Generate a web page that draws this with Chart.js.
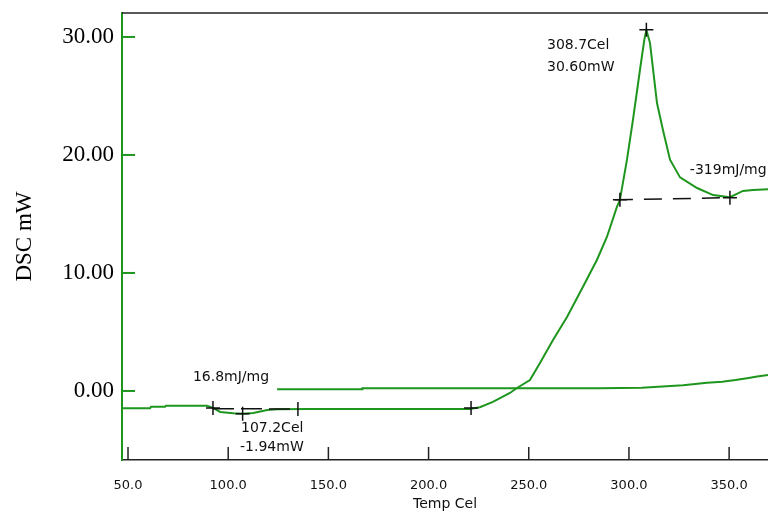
<!DOCTYPE html>
<html>
<head>
<meta charset="utf-8">
<script src="https://cdn.jsdelivr.net/npm/chart.js@4.4.1/dist/chart.umd.min.js"></script>
<style>
  body { margin: 0; background: #fff; }
  canvas { display: block; }
</style>
</head>
<body>
<canvas id="dscChart" width="768" height="513"></canvas>
<script>
// heating run
const heatTemp = [47.0, 61.0, 61.5, 68.5, 69.0, 89.4, 92.4, 96.0, 102.5, 107.2, 112.5, 119.5, 124.4, 140.0, 180.0,
    220.7, 225.6, 232.1, 240.6, 244.1, 250.6, 255.6, 262.1, 269.1, 277.0, 284.0, 289.0, 294.0, 295.5, 299.0,
    302.0, 305.5, 307.7, 308.7, 310.5, 314.0, 317.0, 320.5, 325.5, 334.0, 342.0, 350.4, 356.9, 361.9, 369.4];
const heatDsc = [-1.47, -1.47, -1.33, -1.33, -1.25, -1.25, -1.44, -1.78, -1.89, -1.94, -1.86, -1.61, -1.55, -1.53, -1.53,
    -1.53, -1.38, -0.93, -0.17, 0.25, 0.93, 2.37, 4.32, 6.27, 8.81, 11.1, 13.05, 15.6, 16.2, 19.58,
    22.97, 27.2, 29.8, 30.6, 29.5, 24.4, 22.1, 19.6, 18.1, 17.2, 16.6, 16.42, 16.95, 17.03, 17.1];

// second trace
const coolTemp = [124.4, 166.8, 167.0, 285.0, 306.5, 327.0, 339.0, 346.6, 353.1, 359.0, 364.0, 369.4];
const coolDsc = [0.14, 0.14, 0.23, 0.23, 0.27, 0.49, 0.70, 0.79, 0.93, 1.08, 1.22, 1.36];

// baselines of the two peaks
const base1Temp = [92.4, 134.8];
const base1Dsc = [-1.5, -1.53];
const base2Temp = [293.0, 350.4];
const base2Dsc = [16.2, 16.38];

// analysis markers
const markTemp = [92.4, 107.2, 134.8, 221.2, 295.5, 308.7, 350.4];
const markDsc = [-1.44, -1.94, -1.53, -1.44, 16.2, 30.6, 16.38];

// notes
const noteText = ['16.8mJ/mg', '107.2Cel', '-1.94mW', '308.7Cel', '30.60mW', '-319mJ/mg'];
const noteTemp = [82.4, 106.4, 105.9, 259.1, 259.1, 330.4];
const noteDsc = [1.19, -3.14, -4.75, 29.3, 27.46, 18.73];

const xTicks = [50, 100, 150, 200, 250, 300, 350];
const yTicks = [0, 10, 20, 30];

const green = '#1e961e';
const toPoints = (xs, ys) => xs.map((x, i) => ({ x, y: ys[i] }));

const frame = {
    id: 'frame',
    afterDraw(chart) {
        const { ctx, chartArea, scales } = chart;
        ctx.save();
        // top border
        ctx.strokeStyle = '#222';
        ctx.lineWidth = 1.5;
        ctx.beginPath();
        ctx.moveTo(chartArea.left, chartArea.top);
        ctx.lineTo(chartArea.right, chartArea.top);
        ctx.stroke();
        // inward x ticks
        xTicks.forEach((v) => {
            const px = scales.x.getPixelForValue(v);
            ctx.beginPath();
            ctx.moveTo(px, chartArea.bottom);
            ctx.lineTo(px, chartArea.bottom - 13);
            ctx.stroke();
        });
        // inward y ticks
        ctx.strokeStyle = green;
        ctx.lineWidth = 2;
        yTicks.forEach((v) => {
            const py = scales.y.getPixelForValue(v);
            ctx.beginPath();
            ctx.moveTo(chartArea.left, py);
            ctx.lineTo(chartArea.left + 13, py);
            ctx.stroke();
        });
        // notes
        ctx.fillStyle = '#111';
        ctx.font = '14px "DejaVu Sans"';
        ctx.textAlign = 'left';
        ctx.textBaseline = 'middle';
        noteText.forEach((t, i) => {
            ctx.fillText(t, scales.x.getPixelForValue(noteTemp[i]), scales.y.getPixelForValue(noteDsc[i]));
        });
        ctx.restore();
    },
};

new Chart(document.getElementById('dscChart'), {
    type: 'line',
    data: {
        datasets: [
            {
                data: toPoints(markTemp, markDsc),
                showLine: false,
                pointStyle: ['cross', 'cross', 'line', 'cross', 'cross', 'cross', 'cross'],
                rotation: [0, 0, 90, 0, 0, 0, 0],
                pointRadius: 7,
                pointBorderColor: '#111',
                pointBorderWidth: 1.5,
            },
            {
                data: toPoints(base1Temp, base1Dsc),
                borderColor: '#111',
                borderWidth: 1.5,
                borderDash: [21, 7],
                pointRadius: 0,
            },
            {
                data: toPoints(base2Temp, base2Dsc),
                borderColor: '#111',
                borderWidth: 1.5,
                borderDash: [18, 11],
                pointRadius: 0,
            },
            {
                data: toPoints(heatTemp, heatDsc),
                borderColor: green,
                borderWidth: 2,
                pointRadius: 0,
                tension: 0,
            },
            {
                data: toPoints(coolTemp, coolDsc),
                borderColor: green,
                borderWidth: 2,
                pointRadius: 0,
                tension: 0,
            },
        ],
    },
    options: {
        responsive: false,
        animation: false,
        events: [],
        layout: { autoPadding: false, padding: { top: 13, right: 0, left: 0, bottom: 0 } },
        plugins: {
            legend: { display: false },
            tooltip: { enabled: false },
        },
        scales: {
            x: {
                type: 'linear',
                min: 47.0,
                max: 369.4,
                afterBuildTicks: (s) => { s.ticks = xTicks.map((value) => ({ value })); },
                afterFit: (s) => {
                    s.height = 53;
                    s.paddingLeft = 0;
                    s.paddingRight = 0;
                },
                grid: { display: false, drawTicks: false },
                border: { display: true, color: '#222', width: 1.5 },
                ticks: {
                    padding: 18,
                    color: '#111',
                    font: { family: 'DejaVu Sans', size: 13 },
                    maxRotation: 0,
                    autoSkip: false,
                    callback: (v) => Number(v).toFixed(1),
                },
                title: {
                    display: true,
                    text: 'Temp Cel',
                    color: '#111',
                    font: { family: 'DejaVu Sans', size: 14 },
                    padding: { top: 0, bottom: 0 },
                },
            },
            y: {
                min: -5.85,
                max: 32.03,
                afterBuildTicks: (s) => { s.ticks = yTicks.map((value) => ({ value })); },
                afterFit: (s) => {
                    s.width = 122;
                    s.paddingTop = 0;
                    s.paddingBottom = 0;
                },
                grid: { display: false, drawTicks: false },
                border: { display: true, color: green, width: 2 },
                ticks: {
                    padding: 8,
                    color: '#000',
                    font: { family: 'Liberation Serif', size: 23 },
                    callback: (v) => Number(v).toFixed(2),
                },
                title: {
                    display: true,
                    text: 'DSC mW',
                    color: '#000',
                    font: { family: 'Liberation Serif', size: 23 },
                    padding: { top: 11, bottom: 0 },
                },
            },
        },
    },
    plugins: [frame],
});
</script>
</body>
</html>
